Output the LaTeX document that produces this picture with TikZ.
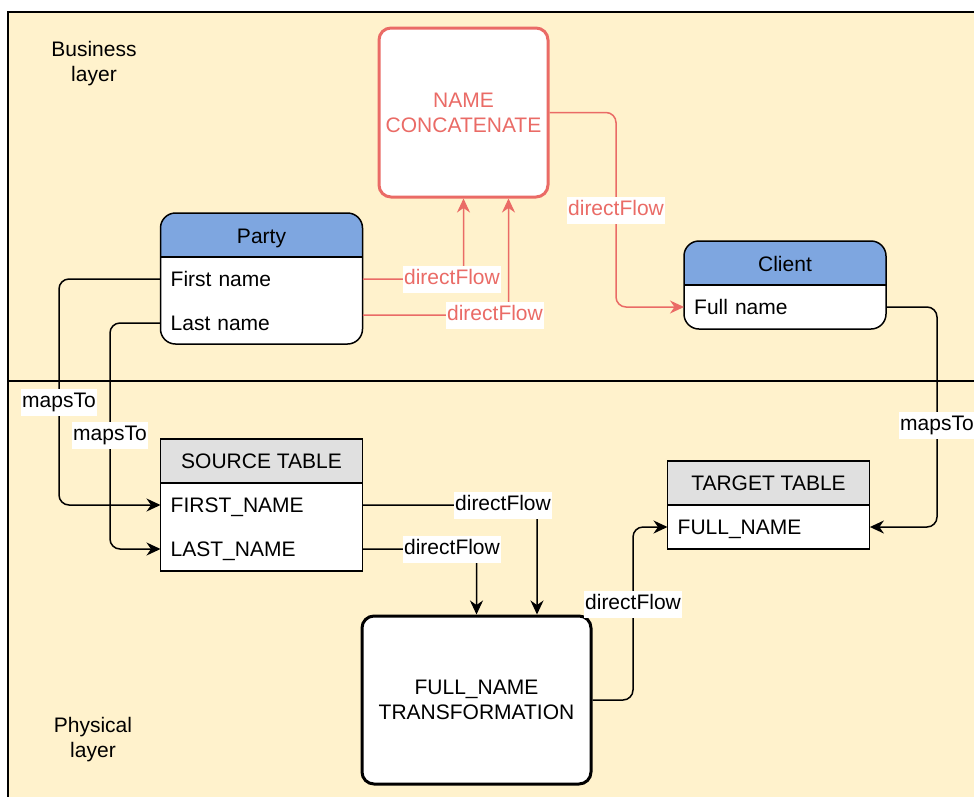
\documentclass[tikz,border=0pt]{standalone}
\usepackage{fontspec}
\setmainfont{Liberation Sans}
\usetikzlibrary{arrows.meta}

\definecolor{layerfill}{HTML}{FFF2CC}
\definecolor{headblue}{HTML}{7EA6E0}
\definecolor{headgray}{HTML}{E0E0E0}
\definecolor{flowred}{HTML}{EA6B66}

\begin{document}
\begin{tikzpicture}
[x=1pt,y=-1pt,%
  every node/.style={font=\fontsize{21}{25}\selectfont,inner sep=0pt},%
  entity/.style={draw,line width=1.5pt,fill=white,minimum width=202pt,%
    path picture={\fill[#1,sharp corners] (path picture bounding box.north west)
        rectangle ([yshift=-44pt]path picture bounding box.north east);
      \draw[line width=1.5pt,sharp corners] ([yshift=-44pt]path picture bounding box.north west)
        -- ([yshift=-44pt]path picture bounding box.north east);}},%
  head/.style={text height=15pt,text depth=0pt},%
  row/.style={head,anchor=west,inner xsep=10pt,text width=182pt,align=left},%
  func/.style={draw,line width=3pt,rounded corners=12pt,fill=white,align=center},%
  link/.style={draw,line width=1.5pt,rounded corners=10pt,%
    -{Stealth[length=14pt,width=13pt,inset=4.5pt]}},%
  redlink/.style={link,flowred},%
  lbl/.style={fill=white,sharp corners,inner xsep=1.5pt,inner ysep=4pt,%
    text height=15pt,text depth=4pt}]
\useasboundingbox (0,0) rectangle (974,796);
\clip (0,0) rectangle (974,796);
\fill[layerfill] (8,12) rectangle (990,810);
\draw[line width=1.2pt] (8,810) -- (8,12) -- (990,12);
\draw[line width=1.2pt] (8,381) -- (990,381);
\node[align=center] (bizlbl) at (94,64) {Business\\layer};
\node[align=center] (phylbl) at (93,740) {Physical\\layer};

\node[func,draw=flowred,text=flowred,minimum width=169pt,minimum height=169pt]
  (concat) at (463.5,112.5) {NAME\\CONCATENATE};
\node[func,minimum width=229pt,minimum height=168pt]
  (trans) at (476.5,700) {FULL\_NAME\\TRANSFORMATION};

\node[entity=headblue,rounded corners=15pt,minimum height=131pt] (party) at (261.5,278.5) {};
\node[head] (partyhead) at (261.5,236) {Party};
\node[row] (pfirst) at (160.5,279) {First name};
\node[row] (plast) at (160.5,323) {Last name};

\node[entity=headblue,rounded corners=15pt,minimum height=88pt] (client) at (785,285) {};
\node[head] (clienthead) at (785,264) {Client};
\node[row] (cfull) at (684,307) {Full name};

\node[entity=headgray,minimum height=132pt] (src) at (261.5,505) {};
\node[head] (srchead) at (261.5,461) {SOURCE TABLE};
\node[row] (sfirst) at (160.5,505) {FIRST\_NAME};
\node[row] (slast) at (160.5,549) {LAST\_NAME};

\node[entity=headgray,minimum height=88pt] (tgt) at (768.5,505) {};
\node[head] (tgthead) at (768.5,483) {TARGET TABLE};
\node[row] (tfull) at (667.5,527) {FULL\_NAME};

\draw[link] (pfirst.west) -| (59,402) node[lbl] {mapsTo} |- (sfirst.west);
\draw[link] (plast.west) -| (110,435) node[lbl] {mapsTo} |- (slast.west);
\draw[redlink] (pfirst.east) -- (452,279) node[lbl] {directFlow} -| (concat.south);
\draw[redlink] ([yshift=8pt]plast.east) -- (495,315) node[lbl] {directFlow}
  -| ([xshift=45pt]concat.south);
\draw[redlink] (concat.east) -| (616,210) node[lbl] {directFlow} |- (cfull.west);
\draw[link] (cfull.east) -| (937,425) node[lbl] {mapsTo} |- (tfull.east);
\draw[link] (sfirst.east) -- (503,505) node[lbl] {directFlow} -| ([xshift=60.5pt]trans.north);
\draw[link] (slast.east) -- (452,549) node[lbl] {directFlow} -| (trans.north);
\draw[link] (trans.east) -| (633,604) node[lbl] {directFlow} |- (tfull.west);
\end{tikzpicture}
\end{document}
